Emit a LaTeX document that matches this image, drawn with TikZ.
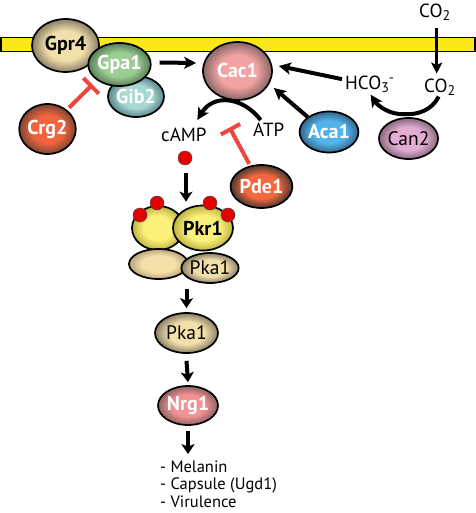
\documentclass[tikz,border=0pt]{standalone}
\usepackage{fontspec}
\setmainfont{PT Sans}
\usetikzlibrary{arrows.meta,calc,shapes.geometric}
\definecolor{memyellow}{HTML}{FCE81A}
\definecolor{inhred}{HTML}{F0453C}
\definecolor{dotred}{HTML}{E40000}
\definecolor{tanin}{HTML}{F2E0AA}
\definecolor{tanout}{HTML}{8A7F68}
\definecolor{gpain}{HTML}{9ECC96}
\definecolor{gpaout}{HTML}{587E56}
\definecolor{gibin}{HTML}{A8D8D4}
\definecolor{gibout}{HTML}{5A8688}
\definecolor{crgin}{HTML}{F0653D}
\definecolor{crgout}{HTML}{7E4436}
\definecolor{cacin}{HTML}{F2A2A2}
\definecolor{cacout}{HTML}{8A6666}
\definecolor{acain}{HTML}{52B4EA}
\definecolor{acaout}{HTML}{36668A}
\definecolor{canin}{HTML}{E4ACD2}
\definecolor{canout}{HTML}{86687E}
\definecolor{pdein}{HTML}{F4683E}
\definecolor{pdeout}{HTML}{4A3832}
\definecolor{nrgin}{HTML}{F29292}
\definecolor{nrgout}{HTML}{8E6262}
\definecolor{yelin}{HTML}{FAF07A}
\definecolor{yelout}{HTML}{BEB440}
\definecolor{ltanin}{HTML}{F6E0AA}
\definecolor{ltanout}{HTML}{B8A47C}
\colorlet{bin}{white}
\colorlet{bout}{black}
\pgfdeclareradialshading[bin,bout]{blob}{\pgfpoint{0bp}{0bp}}{color(0bp)=(bin); color(14bp)=(bin); color(25bp)=(bout); color(50bp)=(bout)}
\newcommand{\mysubs}[1]{\raisebox{-0.32ex}{\fontsize{14}{14}\selectfont #1}}
\newcommand{\mysups}[1]{\raisebox{0.75ex}{\fontsize{14}{14}\selectfont #1}}
\begin{document}
\begin{tikzpicture}[x=1pt,y=-1pt,
  blob/.style n args={4}{ellipse, draw=black, line width=1.7pt, minimum width=#1, minimum height=#2, inner sep=0pt,
     /utils/exec={\colorlet{bin}{#3}\colorlet{bout}{#4}}, shading=blob},
  wlab/.style={text=white, font=\fontsize{20}{20}\selectfont\bfseries},
  blab/.style={text=black, font=\fontsize{20}{20}\selectfont\bfseries},
  rlab/.style={text=black, font=\fontsize{19.5}{19.5}\selectfont},
  txt/.style={inner sep=1pt, font=\fontsize{19}{19}\selectfont},
  lst/.style={inner sep=0pt, anchor=base west, font=\fontsize{16.5}{16.5}\selectfont},
  arr/.style={line width=4pt, -{Stealth[length=12pt,width=12pt,inset=3pt]}},
  varr/.style={line width=4pt, -{Stealth[length=10pt,width=13pt,inset=2.5pt]}},
  inh/.style={draw=inhred, line width=4pt, -{Bar[width=22pt]}},
  reddot/.style={circle, fill=dotred, draw=black!70, line width=0.5pt, minimum size=14pt, inner sep=0pt}
]
\useasboundingbox (0,0) rectangle (475,513);
% membrane
\node[draw=black, line width=1.5pt, fill=memyellow, minimum width=474pt, minimum height=14pt, inner sep=0pt, anchor=north west] (mem) at (0,37) {};
% receptor side
\node[blob={67}{53}{tanin}{tanout}, blab] (gpr4) at (65.5,45.5) {Gpr4};
\node[blob={42}{41}{gibin}{gibout}, wlab] (gib2) at (136,96.5) {Gib2};
\node[blob={49}{43}{gpain}{gpaout}, wlab] (gpa1) at (119.5,64.5) {Gpa1};
\node[blob={53}{50}{crgin}{crgout}, wlab] (crg2) at (47.5,129) {Crg2};
\node[blob={69}{58}{cacin}{cacout}, wlab] (cac1) at (237.5,71) {Cac1};
\node[blob={50}{41}{acain}{acaout}, wlab] (aca1) at (329,132) {Aca1};
\node[blob={57}{41}{canin}{canout}, rlab] (can2) at (408.5,138.5) {Can2};
\node[blob={51}{43}{pdein}{pdeout}, wlab] (pde1) at (261.5,186.5) {Pde1};
% text labels
\node[txt, anchor=base west] (camp) at (160,141.7) {cAMP};
\node[txt, anchor=base west] (atp) at (252,136.7) {ATP};
\node[txt, anchor=base west] (hco3) at (344,89.3) {HCO\mysubs{3}\mysups{-}};
\node[txt, anchor=base west] (co2t) at (418,17.3) {CO\mysubs{2}};
\node[txt, anchor=base west] (co2b) at (423,92.3) {CO\mysubs{2}};
% PKA complex
\node[blob={52}{44}{yelin}{yelout}] (pkrl) at (158,228) {};
\node[blob={60}{45}{yelin}{yelout}, blab] (pkr1) at (203,228) {Pkr1};
\node[blob={59}{30}{ltanin}{ltanout}] (pkal) at (158.5,264) {};
\node[blob={56}{30}{tanin}{tanout}, rlab] (pka1c) at (210,268) {Pka1};
\node[reddot] (d0) at (185,158) {};
\node[reddot] (d1) at (140,215) {};
\node[reddot] (d2) at (157,203) {};
\node[reddot] (d3) at (210,203) {};
\node[reddot] (d4) at (228,215) {};
% downstream
\node[blob={63}{40}{tanin}{tanout}, rlab] (pka1) at (186.5,333) {Pka1};
\node[blob={60}{39}{nrgin}{nrgout}, wlab] (nrg1) at (188,405.5) {Nrg1};
\node[lst] (l1) at (160,472) {- Melanin};
\node[lst] (l2) at (160,489.5) {- Capsule (Ugd1)};
\node[lst] (l3) at (160,507) {- Virulence};
% connectors
\coordinate (crgbar) at (92.5,84.5);
\coordinate (pdebar) at (229.5,127.5);
\draw[inh, shorten <=3pt] (crg2) -- (crgbar);
\draw[inh, shorten <=2pt] (pde1) -- (pdebar);
\draw[arr] ($(gpa1.east)+(8,-2)$) -- ($(cac1.west)+(-6,-8)$);
\draw[arr] ($(atp.north)+(-8,-2)$) .. controls (242,96) and (213,94) .. ($(camp.north)+(13.5,-7)$);
\draw[arr] ($(hco3.west)+(-2,-5)$) -- ($(cac1.east)+(6,-5)$);
\draw[arr] (aca1.north west) -- ($(cac1.east)+(1,17)$);
\draw[line width=3pt, -{Stealth[length=11pt,width=11pt,inset=2.5pt]}] ($(co2t.south)+(2,6)$) -- ($(co2t.south |- co2b.north)+(2,-4)$);
\draw[arr] ($(co2b.south)+(-1,0)$) .. controls (432,110) and (418,115) .. ($(can2.north)+(-4,-3)$) .. controls (390,115) and (378,106) .. ($(hco3.south)+(1,1)$);
\draw[varr] ($(d0.south)+(1,8)$) -- ($(d0.south |- pkr1.north)+(1,-3)$);
\draw[varr] ($(pka1.north)+(0,-23)$) -- ($(pka1.north)+(0,-4)$);
\draw[varr] ($(pka1.south)+(0,7)$) -- ($(nrg1.north)+(0,-3)$);
\draw[varr] ($(nrg1.south)+(0,5)$) -- ($(nrg1.south |- l1.north)+(0,-6)$);
\end{tikzpicture}
\end{document}
